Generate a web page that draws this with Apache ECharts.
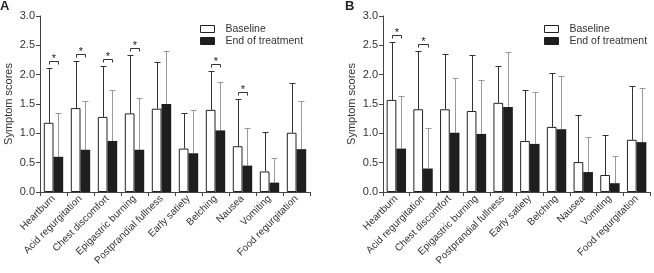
<!DOCTYPE html>
<html>
<head>
<meta charset="utf-8">
<script src="https://cdn.jsdelivr.net/npm/echarts@6.0.0/dist/echarts.min.js"></script>
<style>
html, body { margin: 0; padding: 0; background: #fff; }
#chart { width: 654px; height: 273px; }
</style>
</head>
<body>
<div id="chart"></div>
<script>
// symptom categories (same for both panels)
const symptoms = [
  'Heartburn',
  'Acid regurgitation',
  'Chest discomfort',
  'Epigastric burning',
  'Postprandial fullness',
  'Early satiety',
  'Belching',
  'Nausea',
  'Vomiting',
  'Food regurgitation'
]

// panel A: means and upper ends of the error bars
const baselineA = [1.18, 1.43, 1.28, 1.34, 1.42, 0.74, 1.40, 0.78, 0.35, 1.01]
const baselineTopA = [2.12, 2.23, 2.14, 2.33, 2.21, 1.35, 2.07, 1.59, 1.03, 1.86]
const endA = [0.60, 0.72, 0.87, 0.72, 1.50, 0.66, 1.05, 0.45, 0.16, 0.73]
const endTopA = [1.34, 1.55, 1.74, 1.60, 2.40, 1.39, 1.87, 1.09, 0.58, 1.55]
const sigA = [1, 1, 1, 1, 0, 0, 1, 1, 0, 0]

// panel B
const baselineB = [1.57, 1.41, 1.41, 1.38, 1.52, 0.87, 1.11, 0.51, 0.29, 0.89]
const baselineTopB = [2.55, 2.40, 2.35, 2.33, 2.15, 1.74, 2.03, 1.32, 0.98, 1.81]
const endB = [0.74, 0.40, 1.01, 0.99, 1.45, 0.82, 1.07, 0.34, 0.15, 0.85]
const endTopB = [1.64, 1.09, 1.94, 1.91, 2.38, 1.70, 1.98, 0.94, 0.61, 1.78]
const sigB = [1, 1, 0, 0, 0, 0, 0, 0, 0, 0]

const yMin = 0
const yMax = 3
const yStep = 0.5

const barW = 9.7
const textCol = '#333'
const axisCol = '#444'

const chart = echarts.init(document.getElementById('chart'))

function xAxisFor(idx) {
  return {
    type: 'category',
    gridIndex: idx,
    data: symptoms,
    axisLine: { lineStyle: { color: axisCol, width: 1 } },
    axisTick: { show: true, length: 4, lineStyle: { color: axisCol } },
    axisLabel: {
      interval: 0,
      rotate: 45,
      margin: 5,
      fontSize: 10,
      color: textCol,
      fontFamily: 'Liberation Sans'
    }
  }
}

function yAxisFor(idx) {
  return {
    type: 'value',
    gridIndex: idx,
    min: yMin,
    max: yMax,
    interval: yStep,
    name: 'Symptom scores',
    nameLocation: 'middle',
    nameGap: 26,
    nameTextStyle: { fontSize: 11, color: textCol, fontFamily: 'Liberation Sans' },
    axisLine: { show: true, lineStyle: { color: axisCol, width: 1 } },
    axisTick: { show: true, length: 4, lineStyle: { color: axisCol } },
    splitLine: { show: false },
    axisLabel: {
      margin: 5,
      fontSize: 11,
      color: textCol,
      fontFamily: 'Liberation Sans',
      formatter: function(v) {
        return v.toFixed(1)
      }
    }
  }
}

// error bar: line from mean up to the upper end, with a small cap
function errorSeries(idx, means, tops, shift, color) {
  return {
    type: 'custom',
    name: 'err' + idx + shift,
    xAxisIndex: idx,
    yAxisIndex: idx,
    z: 1,
    silent: true,
    data: means.map((m, i) => [i, m, tops[i]]),
    renderItem: function(params, api) {
      const base = api.coord([api.value(0), api.value(1)])
      const top = api.coord([api.value(0), api.value(2)])
      const x = Math.round(base[0] + shift * barW / 2) + 0.5
      const y = Math.round(top[1]) + 0.5
      return {
        type: 'group',
        children: [
          {
            type: 'line',
            shape: { x1: x, y1: base[1], x2: x, y2: y },
            style: { stroke: color, lineWidth: 1 }
          },
          {
            type: 'line',
            shape: { x1: x - 3, y1: y, x2: x + 3, y2: y },
            style: { stroke: color, lineWidth: 1 }
          }
        ]
      }
    }
  }
}

// significance bracket with asterisk
function sigSeries(idx, sig, topsBase, topsEnd) {
  const data = []
  sig.forEach((s, i) => {
    if (s) data.push([i, Math.max(topsBase[i], topsEnd[i])])
  })
  return {
    type: 'custom',
    name: 'sig' + idx,
    xAxisIndex: idx,
    yAxisIndex: idx,
    z: 3,
    silent: true,
    data: data,
    renderItem: function(params, api) {
      const p = api.coord([api.value(0), api.value(1)])
      const x1 = Math.round(p[0] - barW / 2) + 0.5
      const x2 = Math.round(p[0] + barW / 2) + 0.5
      const y = Math.round(p[1] - 7) + 0.5
      return {
        type: 'group',
        children: [
          {
            type: 'polyline',
            shape: { points: [[x1, y + 3], [x1, y], [x2, y], [x2, y + 3]] },
            style: { stroke: '#333', lineWidth: 1, fill: null }
          },
          {
            type: 'text',
            style: {
              x: (x1 + x2) / 2,
              y: y - 3,
              text: '*',
              fontSize: 11,
              fontFamily: 'Liberation Sans',
              fill: '#222',
              align: 'center',
              verticalAlign: 'middle'
            }
          }
        ]
      }
    }
  }
}

function barSeries(idx, name, values, style) {
  return {
    type: 'bar',
    name: name,
    xAxisIndex: idx,
    yAxisIndex: idx,
    barWidth: barW,
    barGap: '0%',
    z: 2,
    itemStyle: style,
    emphasis: { disabled: true },
    data: values
  }
}

const baseStyle = { color: '#fff', borderColor: '#222', borderWidth: 1 }
const endStyle = { color: '#1e1e1e', borderColor: '#1e1e1e', borderWidth: 0 }

function legendAt(left) {
  return {
    left: left,
    top: 18,
    orient: 'vertical',
    icon: 'rect',
    itemWidth: 14,
    itemHeight: 7,
    itemGap: 0,
    selectedMode: false,
    data: ['Baseline', 'End of treatment'],
    itemStyle: { borderWidth: 1 },
    textStyle: {
      fontSize: 10.5,
      lineHeight: 12,
      color: textCol,
      fontFamily: 'Liberation Sans',
      padding: [0, 0, 0, 6]
    }
  }
}

const option = {
  animation: false,
  title: [
    { text: 'A', left: 0, top: 0, padding: 0, textStyle: { fontSize: 13, fontWeight: 'bold', color: '#222', fontFamily: 'Liberation Sans' } },
    { text: 'B', left: 345, top: 0, padding: 0, textStyle: { fontSize: 13, fontWeight: 'bold', color: '#222', fontFamily: 'Liberation Sans' } }
  ],
  legend: [legendAt(195), legendAt(539)],
  grid: [
    { left: 40, right: 344, top: 16, bottom: 81 },
    { left: 383, right: 4, top: 16, bottom: 81 }
  ],
  xAxis: [xAxisFor(0), xAxisFor(1)],
  yAxis: [yAxisFor(0), yAxisFor(1)],
  series: [
    barSeries(0, 'Baseline', baselineA, baseStyle),
    barSeries(0, 'End of treatment', endA, endStyle),
    barSeries(1, 'Baseline', baselineB, baseStyle),
    barSeries(1, 'End of treatment', endB, endStyle),
    errorSeries(0, baselineA, baselineTopA, -1, '#333'),
    errorSeries(0, endA, endTopA, 1, '#9a9a9a'),
    errorSeries(1, baselineB, baselineTopB, -1, '#333'),
    errorSeries(1, endB, endTopB, 1, '#9a9a9a'),
    sigSeries(0, sigA, baselineTopA, endTopA),
    sigSeries(1, sigB, baselineTopB, endTopB)
  ]
}

chart.setOption(option)
</script>
</body>
</html>
